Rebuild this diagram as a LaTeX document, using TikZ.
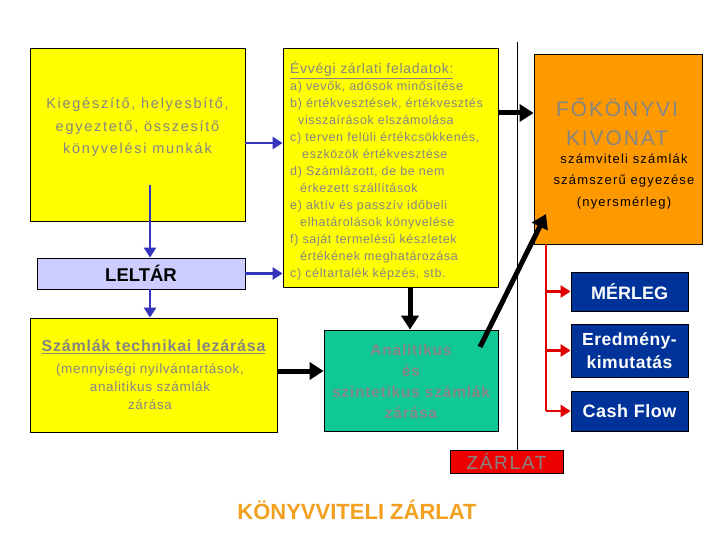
\documentclass[tikz,border=0pt]{standalone}
\usepackage{fontspec}
\setmainfont{Liberation Sans}
\newfontfamily\lsA[LetterSpace=12]{Liberation Sans}
\newfontfamily\lsB[LetterSpace=5]{Liberation Sans}
\newfontfamily\lsC[LetterSpace=9]{Liberation Sans}
\newfontfamily\lsD[LetterSpace=3]{Liberation Sans}
\usetikzlibrary{arrows.meta}
\newcommand{\myfs}[2]{\fontsize{#1}{#2}\selectfont}
\definecolor{ylw}{HTML}{FFFF00}
\definecolor{txtgray}{HTML}{858585}
\definecolor{lav}{HTML}{CCCCFF}
\definecolor{blu}{HTML}{3333BB}
\definecolor{tealbox}{HTML}{10C896}
\definecolor{orng}{HTML}{FF9900}
\definecolor{navybox}{HTML}{003399}
\definecolor{redl}{HTML}{E00000}
\definecolor{redbox}{HTML}{EE0000}
\definecolor{orangetxt}{HTML}{F2A01E}
\tikzset{
  box/.style={draw=black, line width=0.8pt, inner sep=0pt, rectangle},
  gtxt/.style={text=txtgray, inner sep=0pt, align=center},
  blarrow/.style={blu, line width=2.5pt, -{Triangle[length=10pt,width=12pt]}},
  bkarrow/.style={black, line width=5pt, -{Triangle[length=14pt,width=17pt]}},
  rdline/.style={redl, line width=2.5pt},
  rdarrow/.style={redl, line width=2.5pt, -{Triangle[length=10pt,width=12pt]}},
  thinline/.style={black, line width=0.8pt}
}
\begin{document}
\begin{tikzpicture}[x=1pt,y=-1pt]
\useasboundingbox (0,0) rectangle (720,540);
\fill[white] (0,0) rectangle (720,540);
% helper coordinates
\coordinate (vtop) at (517,42);
\coordinate (y143) at (0,143);
\coordinate (y113) at (0,113);
\coordinate (y371) at (0,371);
\coordinate (x410) at (410,0);
\coordinate (x150) at (150,0);
\coordinate (b1s) at (150,185);
\coordinate (r0) at (546,0);
\coordinate (d1) at (480,347);
\coordinate (d2) at (546,214);
% boxes
\node[box, fill=ylw, minimum width=215pt, minimum height=173pt] (b1) at (137.5,134.5) {};
\node[box, fill=lav, minimum width=208pt, minimum height=31pt, font=\bfseries\myfs{18.5}{20}] (leltar) at (141,273.5) {LELTÁR};
\node[box, fill=ylw, minimum width=247pt, minimum height=114pt] (szamlak) at (153.5,375) {};
\node[box, fill=ylw, minimum width=215pt, minimum height=239pt] (evvegi) at (390.5,167.5) {};
\node[box, fill=tealbox, minimum width=174pt, minimum height=101pt] (anal) at (411,380.5) {};
\node[box, fill=orng, minimum width=168pt, minimum height=190pt] (fokonyv) at (618,149) {};
\node[box, fill=navybox, minimum width=117pt, minimum height=39pt, text=white, font=\bfseries\myfs{18}{20}] (merleg) at (629.5,291.5) {MÉRLEG};
\node[box, fill=navybox, minimum width=117pt, minimum height=53pt, text=white, align=center, font=\lsD\bfseries\myfs{17.5}{23}] (eredm) at (629.5,350.5) {Eredmény-\\kimutatás};
\node[box, fill=navybox, minimum width=117pt, minimum height=40pt, text=white, font=\lsD\bfseries\myfs{18}{20}] (cash) at (629.5,411) {Cash Flow};
% thin vertical line
\draw[thinline] (vtop) -- (517,450);
\node[box, fill=redbox, minimum width=113pt, minimum height=23pt, text=txtgray, font=\lsC\myfs{19}{20}] (zarlat) at (506.5,461.5) {ZÁRLAT};
% texts
\node[gtxt, font=\lsA\myfs{14.5}{22.5}] (t1) at (137.5,127.5) {Kiegészítő, helyesbítő,\\egyeztető, összesítő\\könyvelési munkák};
\node[gtxt, font=\lsB\bfseries\myfs{16}{18}] (sz1) at (153.5,347) {\underline{Számlák technikai lezárása}};
\node[gtxt, font=\lsB\myfs{13.5}{18}] (sz2) at (150,387) {(mennyiségi nyilvántartások,\\analitikus számlák\\zárása};
\node[gtxt, font=\lsB\bfseries\myfs{15.5}{21}] (an) at (411,381.5) {Analitikus\\és\\szintetikus számlák\\zárása};
\node[gtxt, font=\lsC\myfs{21}{29}] (fk1) at (617,121.5) {FŐKÖNYVI\\KIVONAT};
\node[inner sep=0pt, align=center, text=black, font=\lsC\myfs{13}{21.5}] (fk2) at (624,181.5) {számviteli számlák\\számszerű egyezése\\(nyersmérleg)};
\node[gtxt, align=left, anchor=north west, font=\lsB\myfs{12.5}{17}] (ev) at (290,61.5) {\myfs{14}{17}\underline{Évvégi zárlati feladatok:}\\
a) vevők, adósok minősítése\\
b) értékvesztések, értékvesztés\\
\hspace*{8pt}visszaírások elszámolása\\
c) terven felüli értékcsökkenés,\\
\hspace*{12pt}eszközök értékvesztése\\
d) Számlázott, de be nem\\
\hspace*{10pt}érkezett szállítások\\
e) aktív és passzív időbeli\\
\hspace*{10pt}elhatárolások könyvelése\\
f) saját termelésű készletek\\
\hspace*{10pt}értékének meghatározása\\
c) céltartalék képzés, stb.};
\node[inner sep=0pt, text=orangetxt, font=\bfseries\myfs{22}{24}] (kz) at (357,510) {KÖNYVVITELI ZÁRLAT};
% blue arrows
\draw[blarrow] (b1s) -- (leltar.north -| b1s);
\draw[blarrow] (leltar.south -| x150) -- (szamlak.north -| x150);
\draw[blarrow] (b1.east |- y143) -- (evvegi.west |- y143);
\draw[blarrow] (leltar.east) -- (evvegi.west |- leltar.east);
% black arrows
\draw[bkarrow] (evvegi.east |- y113) -- (fokonyv.west |- y113);
\draw[bkarrow] (evvegi.south -| x410) -- (anal.north -| x410);
\draw[bkarrow] (szamlak.east |- y371) -- (anal.west |- y371);
\draw[bkarrow] (d1) -- (d2);
% red connectors
\draw[rdline] (fokonyv.south -| r0) -- (cash.west -| r0);
\draw[rdarrow] (merleg.west -| r0) -- (merleg.west);
\draw[rdarrow] (eredm.west -| r0) -- (eredm.west);
\draw[rdarrow] (cash.west -| r0) -- (cash.west);
\end{tikzpicture}
\end{document}
